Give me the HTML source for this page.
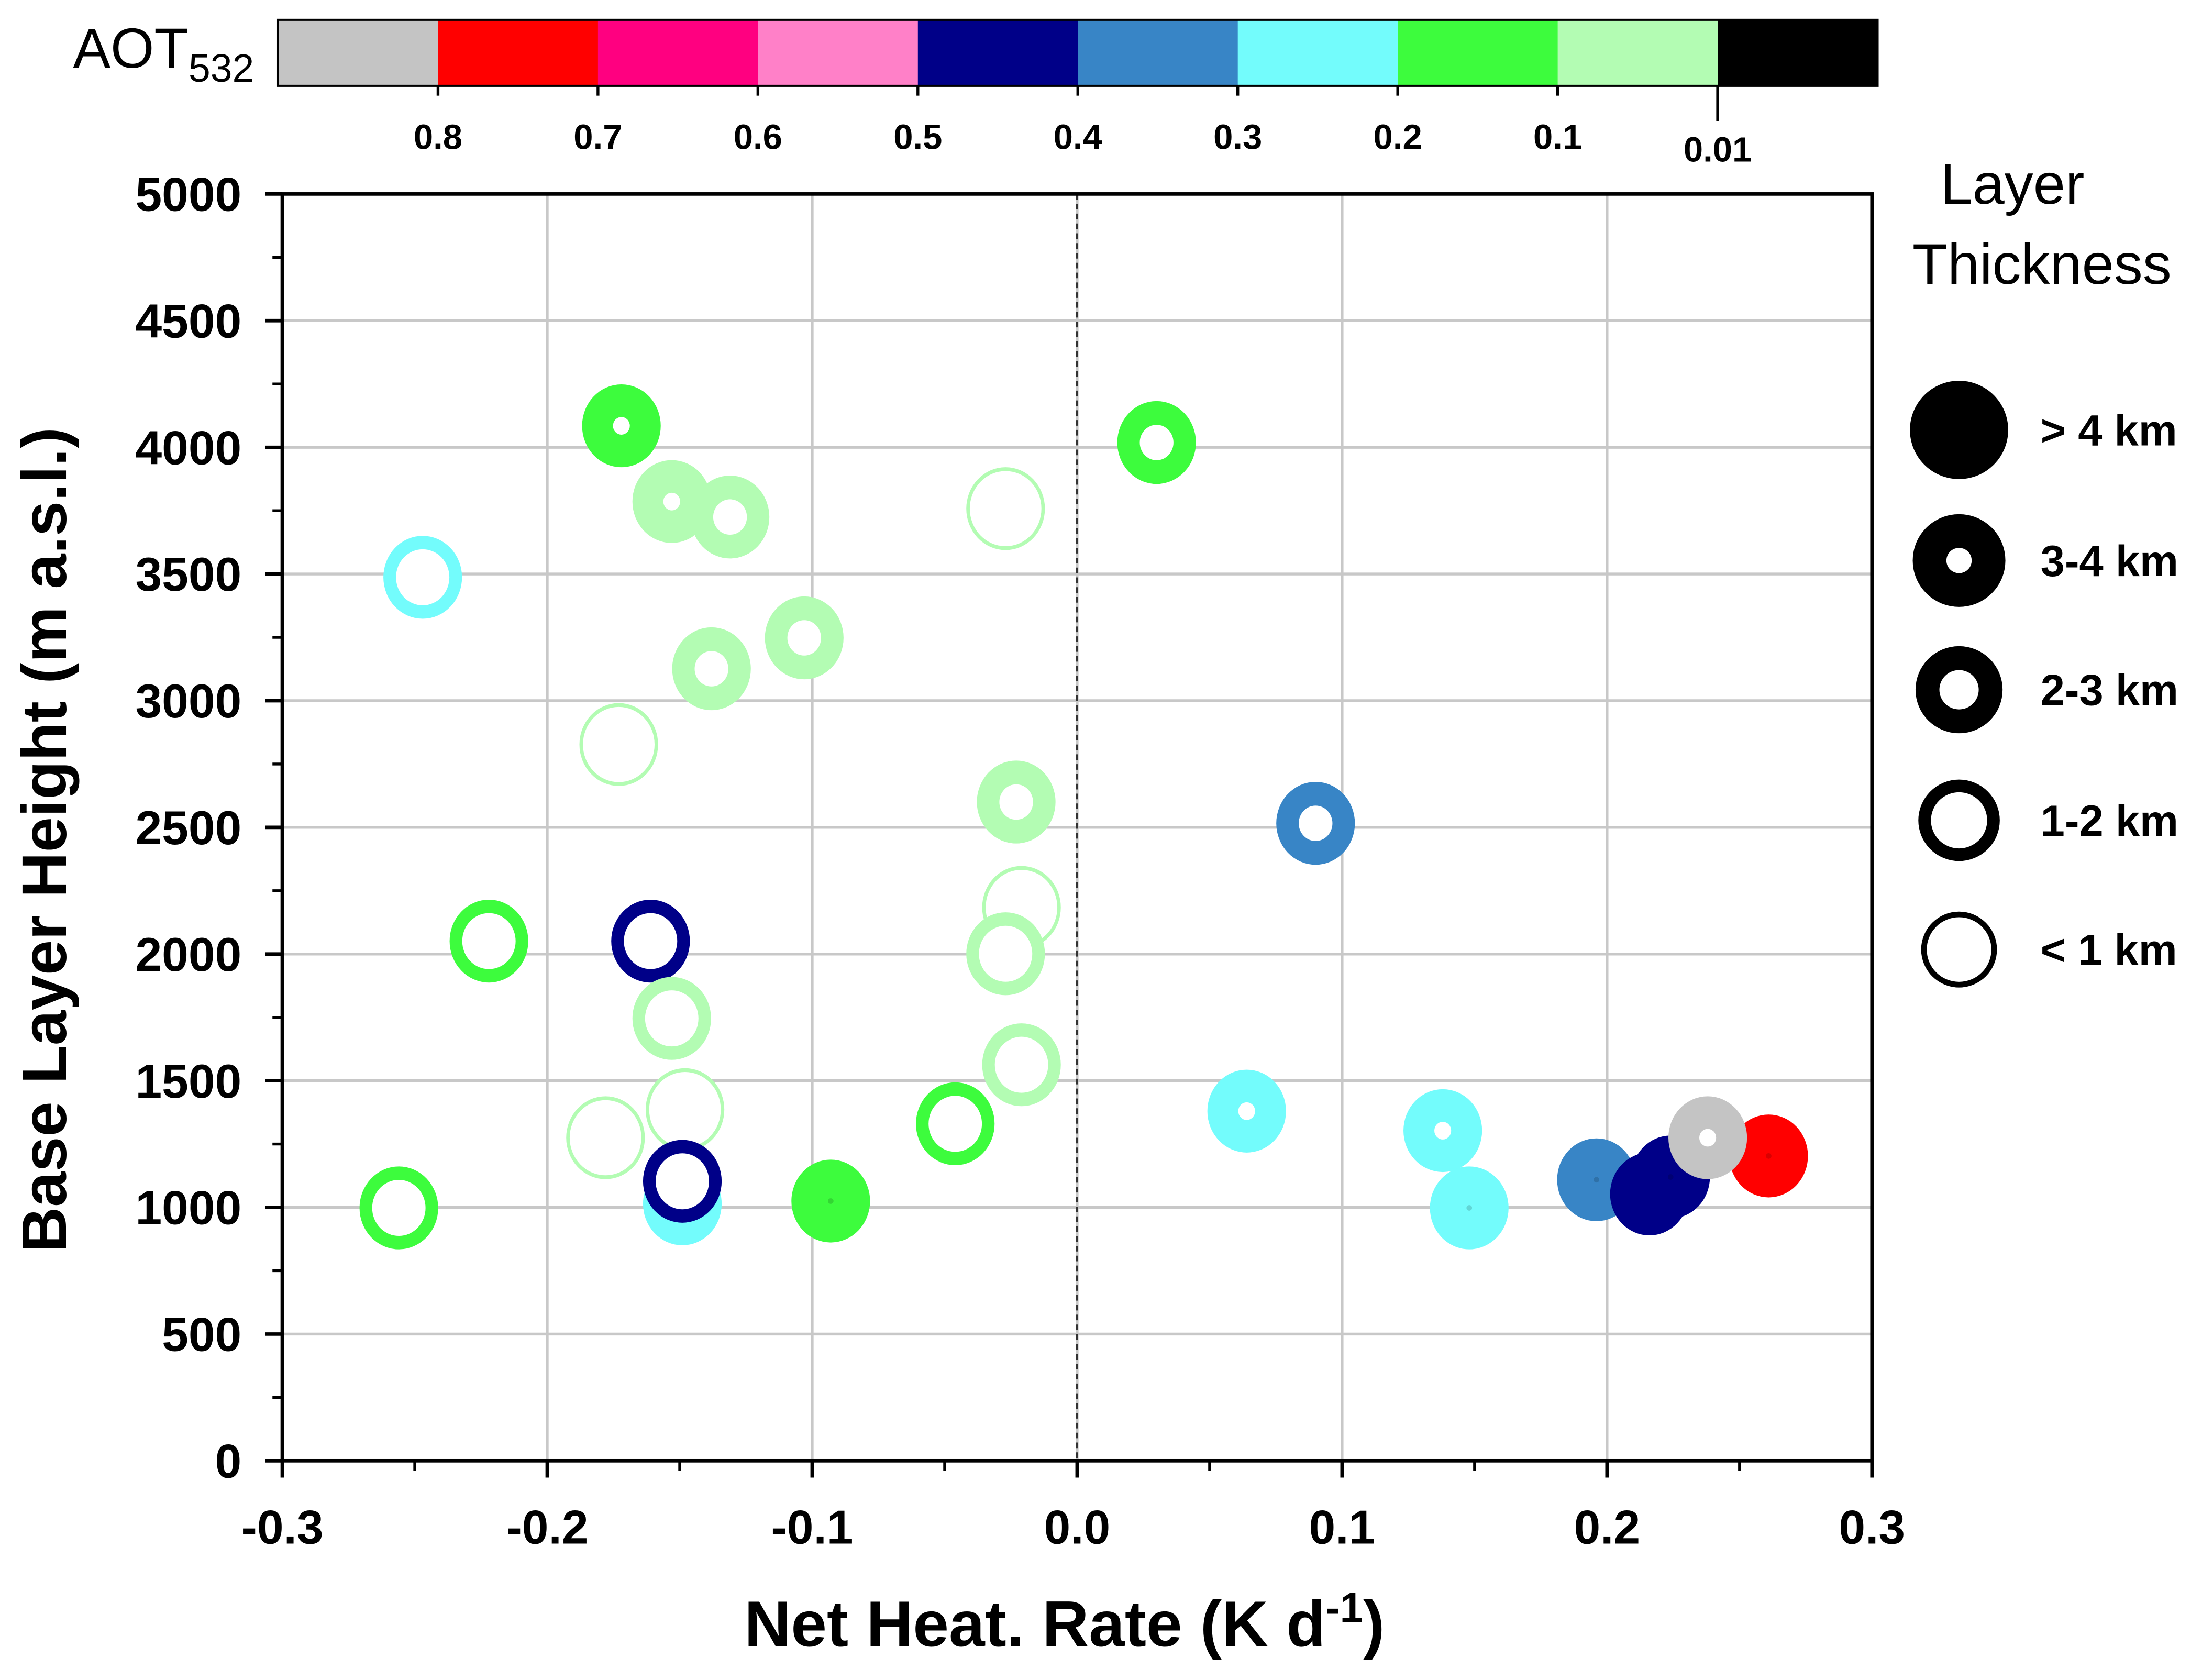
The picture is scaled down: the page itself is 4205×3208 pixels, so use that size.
<!DOCTYPE html>
<html><head><meta charset="utf-8">
<style>html,body{margin:0;padding:0;background:#fff}svg{display:block}text{font-family:"Liberation Sans",sans-serif}</style>
</head><body>
<svg id="chart" xmlns="http://www.w3.org/2000/svg" width="4205" height="3208" viewBox="0 0 1568 1196">
<g id="colorbar"></g>
<g id="grid"></g>
<g id="points"></g>
<g id="axes"></g>
<g id="legend"></g>
</svg>
<script>
const xVals=[-0.172,0.030,-0.153,-0.131,-0.027,-0.247,-0.103,-0.138,-0.173,-0.023,0.090,-0.021,-0.222,-0.161,-0.027,-0.153,-0.021,-0.148,-0.178,-0.046,0.064,0.138,-0.149,-0.149,-0.256,-0.093,0.148,0.196,0.216,0.224,0.261,0.238];
const yVals=[4085,4019,3786,3725,3758,3487,3248,3126,2827,2600,2516,2184,2051,2051,2001,1746,1563,1386,1275,1330,1380,1303,1014,1103,998,1025,998,1109,1053,1120,1203,1275];
const aotClass=[7,7,8,8,8,6,8,8,8,8,5,8,7,4,8,8,8,8,8,7,6,6,6,4,7,7,6,5,4,4,1,0];
const thickClass=[1,2,1,2,4,3,2,2,4,2,2,4,3,3,3,3,3,4,4,3,1,1,0,3,3,0,0,0,0,0,0,1];
const aotColors=["#c4c4c4","#ff0000","#ff0080","#ff80c8","#000088","#3885c6","#73fcfc","#3dfc3d","#b3fcb3","#000000"];
const aotLabels=["0.8","0.7","0.6","0.5","0.4","0.3","0.2","0.1","0.01"];
const xTicks=[-0.3,-0.2,-0.1,0.0,0.1,0.2,0.3];
const yTicks=[0,500,1000,1500,2000,2500,3000,3500,4000,4500,5000];
const legendLabels=["> 4 km","3-4 km","2-3 km","1-2 km","< 1 km"];
const NS="http://www.w3.org/2000/svg";
const X0=201,X1=1333,Y0=1040,Y1=138;
const sx=v=>X0+(v+0.3)/0.6*(X1-X0);
const sy=v=>Y0-v/5000*(Y0-Y1);
const holeR=[1.5,6,12,19,25.5];
function mk(tag,attrs,parent){const e=document.createElementNS(NS,tag);for(const k in attrs)e.setAttribute(k,attrs[k]);parent.appendChild(e);return e;}
const cb=document.getElementById('colorbar'),grid=document.getElementById('grid'),pts=document.getElementById('points'),axes=document.getElementById('axes'),leg=document.getElementById('legend');
const cbX=198,cbW=(1337-198)/aotColors.length;
aotColors.forEach((c,i)=>{const r=mk('rect',{x:cbX+i*cbW,y:14,width:cbW+0.5,height:47,fill:c},cb);

});
mk('rect',{x:198,y:14,width:1139,height:47,fill:'none',stroke:'#000','stroke-width':1.5},cb);
aotLabels.forEach((l,i)=>{const x=cbX+(i+1)*cbW;const last=i===aotLabels.length-1;
mk('line',{x1:x,x2:x,y1:61,y2:last?86:68,stroke:'#000','stroke-width':2},cb);
const t=mk('text',{x:x,y:last?115:106,'text-anchor':'middle','font-size':25,'font-weight':'bold'},cb);t.textContent=l;

});
const at=mk('text',{x:52,y:48,'font-size':40},cb);at.innerHTML='AOT<tspan font-size="28" dy="10">532</tspan>';


xTicks.forEach(v=>{const g=mk('line',{x1:sx(v),x2:sx(v),y1:Y1,y2:Y0,stroke:'#c8c8c8','stroke-width':2},grid);

});
yTicks.forEach(v=>{const g=mk('line',{x1:X0,x2:X1,y1:sy(v),y2:sy(v),stroke:'#c8c8c8','stroke-width':2},grid);

});
const zl=mk('line',{x1:sx(0),x2:sx(0),y1:Y1,y2:Y0,stroke:'#333','stroke-width':1.5,'stroke-dasharray':'4,3'},grid);


xVals.forEach((xv,i)=>{const cx=sx(xv),cy=sy(yVals[i]);const col=aotColors[aotClass[i]];const h=holeR[thickClass[i]];
const p=mk('ellipse',{cx:cx,cy:cy,rx:28,ry:29.5,fill:col},pts);


if(thickClass[i]===0){mk('circle',{cx:cx,cy:cy,r:2,fill:'#000',opacity:0.15},pts);}
else{mk('ellipse',{cx:cx,cy:cy,rx:h,ry:h*1.05,fill:'#fff'},pts);}});
const box=mk('rect',{x:X0,y:Y1,width:X1-X0,height:Y0-Y1,fill:'none',stroke:'#000','stroke-width':2.5},axes);


xTicks.forEach((v,i)=>{mk('line',{x1:sx(v),x2:sx(v),y1:Y0,y2:Y0+12,stroke:'#000','stroke-width':2.5},axes);
if(i<xTicks.length-1){const m=sx(v+0.05);mk('line',{x1:m,x2:m,y1:Y0,y2:Y0+7,stroke:'#000','stroke-width':2},axes);}
const t=mk('text',{x:sx(v),y:1099,'text-anchor':'middle','font-size':34,'font-weight':'bold'},axes);t.textContent=v.toFixed(1);

});
yTicks.forEach((v,i)=>{mk('line',{x1:X0-12,x2:X0,y1:sy(v),y2:sy(v),stroke:'#000','stroke-width':2.5},axes);
if(i<yTicks.length-1){const m=sy(v+250);mk('line',{x1:X0-7,x2:X0,y1:m,y2:m,stroke:'#000','stroke-width':2},axes);}
const t=mk('text',{x:172,y:sy(v)+12,'text-anchor':'end','font-size':34,'font-weight':'bold'},axes);t.textContent=v;

});
const xt=mk('text',{x:758,y:1172,'text-anchor':'middle','font-size':46,'font-weight':'bold'},axes);xt.innerHTML='Net Heat. Rate (K d<tspan font-size="30" dy="-17">-1</tspan><tspan dy="17">)</tspan>';


const yt=mk('text',{x:0,y:0,'text-anchor':'middle','font-size':45,'font-weight':'bold',transform:'translate(47,598) rotate(-90)'},axes);yt.textContent='Base Layer Height (m a.s.l.)';


const l1=mk('text',{x:1433,y:145,'text-anchor':'middle','font-size':41},leg);l1.textContent='Layer';


const l2=mk('text',{x:1454,y:202,'text-anchor':'middle','font-size':41},leg);l2.textContent='Thickness';


const lr=[[35,0],[33,9],[31,14],[29,20],[27,23]];const ly=[306,399,491,584,676];
legendLabels.forEach((l,i)=>{const cx=1395,cy=ly[i],r=lr[i][0],h=lr[i][1];
const p=mk('path',{d:`M${cx-r},${cy}a${r},${r} 0 1,0 ${2*r},0a${r},${r} 0 1,0 ${-2*r},0Z`+(h?` M${cx-h},${cy}a${h},${h} 0 1,1 ${2*h},0a${h},${h} 0 1,1 ${-2*h},0Z`:''),fill:'#000','fill-rule':'evenodd'},leg);


const t=mk('text',{x:1453,y:cy+11,'font-size':31,'font-weight':'bold'},leg);t.textContent=l;

});
</script>
</body></html>
